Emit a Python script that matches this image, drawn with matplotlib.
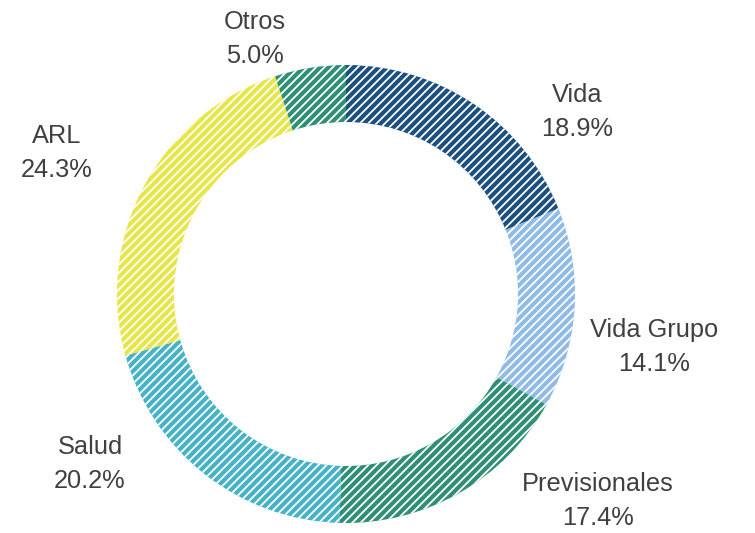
import matplotlib
matplotlib.use("Agg")
import matplotlib.pyplot as plt

# data
categories = ["Vida", "Vida Grupo", "Previsionales", "Salud", "ARL", "Otros"]
shares = [18.9, 14.1, 17.4, 20.2, 24.3, 5.0]
colors = ["#1b4f7e", "#8fbbe6", "#2f8f76", "#45b2c6", "#e6e64a", "#2f8f76"]

# label anchor points (pixels, origin bottom-left)
label_pos = [(577, 421), (654, 186), (598, 32), (90, 69), (57, 380), (255, 494)]

plt.rcParams["font.family"] = ["Liberation Sans", "DejaVu Sans"]
plt.rcParams["hatch.color"] = "white"
plt.rcParams["hatch.linewidth"] = 1.3

fig = plt.figure(figsize=(7.55, 5.33), dpi=100)
ax = fig.add_axes([0, 0, 1, 1])

wedges, _ = ax.pie(shares, colors=colors, startangle=90, counterclock=False,
                   center=(346, 239), radius=229,
                   wedgeprops=dict(width=57, linewidth=0, edgecolor="white"))
for w in wedges:
    w.set_hatch("////")

# pie() resets the limits, so set them afterwards
ax.set_xlim(0, 755)
ax.set_ylim(0, 533)
ax.set_aspect("equal")
ax.axis("off")

for name, val, (x, y) in zip(categories, shares, label_pos):
    ax.text(x, y, f"{name}\n{val:.1f}%", ha="center", va="center",
            fontsize=18.3, color="#404040", linespacing=1.5)

fig.savefig("out.png", dpi=100)
